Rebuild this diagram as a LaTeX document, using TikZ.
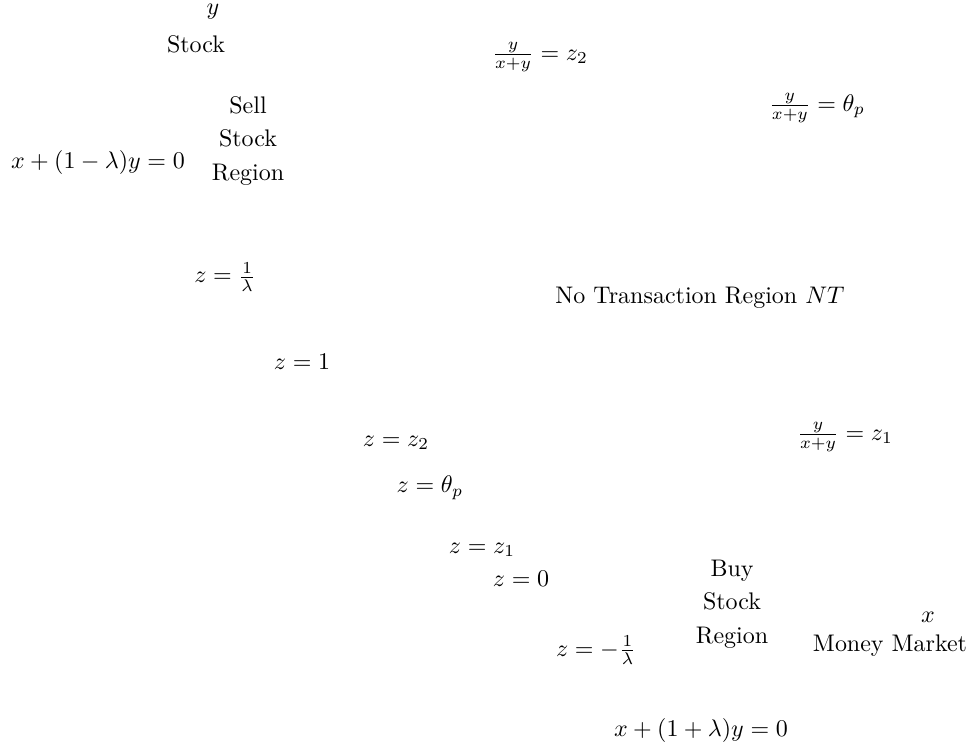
\documentclass[tikz,border=0pt]{standalone}
\usepackage{tikz}
\usetikzlibrary{positioning}

\begin{document}
\begin{tikzpicture}[x=0.014645cm, y=0.014645cm, font=\normalsize]
\useasboundingbox (0,0) rectangle (970,749);

% axes labels
\node (ylab) at (213,737) {$y$};
\node (stock) at (196,705) {Stock};
\node (xlab) at (928,132) {$x$};
\node (money) at (890,103) {Money Market};

% boundary lines
\node (sellbd) at (98,586) {$x+(1-\lambda)y=0$};
\node (buybd) at (701,19) {$x+(1+\lambda)y=0$};
\node (ztwo) at (540,692) {$\frac{y}{x+y}=z_2$};
\node (ztheta) at (817,641) {$\frac{y}{x+y}=\theta_p$};
\node (zone) at (845,312) {$\frac{y}{x+y}=z_1$};

% regions
\node (sell) at (248,608) [align=center] {Sell\\[2pt]Stock\\[2pt]Region};
\node (nt) at (700,451) {No Transaction Region $NT$};
\node (buy) at (732,145) [align=center] {Buy\\[2pt]Stock\\[2pt]Region};

% values of z
\node (zinv) at (225,472) {$z=\frac{1}{\lambda}$};
\node (zeq1) at (302,387) {$z=1$};
\node (zeqz2) at (396,306) {$z=z_2$};
\node (zeqth) at (430,261) {$z=\theta_p$};
\node (zeqz1) at (482,199) {$z=z_1$};
\node (zeq0) at (521,170) {$z=0$};
\node (zneg) at (596,99) {$z=-\frac{1}{\lambda}$};
\end{tikzpicture}
\end{document}
